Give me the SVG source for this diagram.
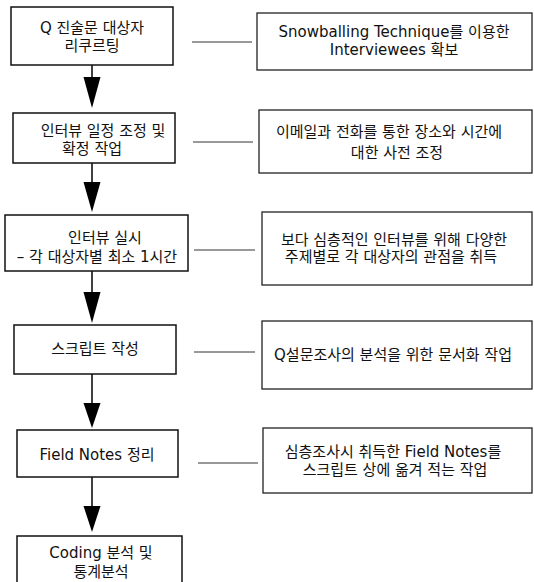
<svg xmlns="http://www.w3.org/2000/svg" width="534" height="582" viewBox="0 0 534 582">
<style>
.box{fill:#fff;stroke:#111;stroke-width:1.5}
.rbox{fill:#fff;stroke:#222;stroke-width:1.3}
.t{font-family:"DejaVu Sans","Noto Sans CJK KR",sans-serif;font-size:15px;fill:#111;text-anchor:middle}
.link{stroke:#333;stroke-width:1}
.flow{stroke:#000;stroke-width:1.5}
.head{fill:#000}
</style>
<rect width="534" height="582" fill="#fff"/>
<g id="connectors">
<line class="link" x1="192" y1="42" x2="252" y2="42"/>
<line class="link" x1="193" y1="142" x2="253" y2="142"/>
<line class="link" x1="194" y1="250" x2="255" y2="250"/>
<line class="link" x1="194" y1="352" x2="255" y2="352"/>
<line class="link" x1="198" y1="463" x2="258" y2="463"/>
<line class="flow" x1="92" y1="65" x2="92" y2="78"/>
<polygon class="head" points="83.5,77 100.5,77 92,108"/>
<line class="flow" x1="92" y1="163" x2="92" y2="183"/>
<polygon class="head" points="83.5,182 100.5,182 92,212"/>
<line class="flow" x1="92" y1="271" x2="92" y2="293"/>
<polygon class="head" points="83.5,292 100.5,292 92,323"/>
<line class="flow" x1="92" y1="374" x2="92" y2="404"/>
<polygon class="head" points="83.5,403 100.5,403 92,428"/>
<line class="flow" x1="92" y1="477" x2="92" y2="507"/>
<polygon class="head" points="83.5,506 100.5,506 92,532"/>
</g>
<g id="b1"><rect class="box" x="11" y="7" width="162" height="58"/>
<text class="t" x="92" y="33">Q 진술문 대상자</text><text class="t" x="92" y="51">리쿠르팅</text></g>
<g id="b2"><rect class="box" x="13" y="113" width="162" height="50"/>
<text class="t" x="103" y="136">인터뷰 일정 조정 및</text><text class="t" x="92" y="154">확정 작업</text></g>
<g id="b3"><rect class="box" x="5" y="215" width="183" height="56"/>
<text class="t" x="105" y="243">인터뷰 실시</text><text class="t" x="97" y="262">– 각 대상자별 최소 1시간</text></g>
<g id="b4"><rect class="box" x="14" y="325" width="162" height="49"/>
<text class="t" x="95" y="354">스크립트 작성</text></g>
<g id="b5"><rect class="box" x="17" y="430" width="161" height="47"/>
<text class="t" x="97" y="460">Field Notes 정리</text></g>
<g id="b6"><rect class="box" x="17" y="536" width="165" height="60"/>
<text class="t" x="101" y="558">Coding 분석 및</text><text class="t" x="101" y="577">통계분석</text></g>
<g id="r1"><rect class="rbox" x="257" y="13" width="275" height="57"/>
<text class="t" x="394" y="37">Snowballing Technique를 이용한</text><text class="t" x="394" y="55">Interviewees 확보</text></g>
<g id="r2"><rect class="rbox" x="259" y="110" width="273" height="63"/>
<text class="t" x="389" y="137">이메일과 전화를 통한 장소와 시간에</text><text class="t" x="397" y="158">대한 사전 조정</text></g>
<g id="r3"><rect class="rbox" x="262" y="212" width="270" height="73"/>
<text class="t" x="394" y="245">보다 심층적인 인터뷰를 위해 다양한</text><text class="t" x="391" y="262">주제별로 각 대상자의 관점을 취득</text></g>
<g id="r4"><rect class="rbox" x="262" y="321" width="270" height="68"/>
<text class="t" x="393" y="360">Q설문조사의 분석을 위한 문서화 작업</text></g>
<g id="r5"><rect class="rbox" x="263" y="428" width="269" height="65"/>
<text class="t" x="393" y="457">심층조사시 취득한 Field Notes를</text><text class="t" x="395" y="475">스크립트 상에 옮겨 적는 작업</text></g>
</svg>
